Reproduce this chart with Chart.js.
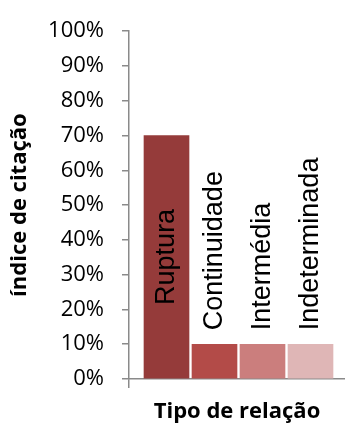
<!DOCTYPE html>
<html>
<head>
<meta charset="utf-8">
<script src="https://cdn.jsdelivr.net/npm/chart.js@4"></script>
<style>
  html, body { margin: 0; padding: 0; background: #fff; }
  #wrap { width: 345px; height: 426px; }
</style>
</head>
<body>
<div id="wrap"><canvas id="chart" width="345" height="426"></canvas></div>
<script>
// dados
const categorias = ['Ruptura', 'Continuidade', 'Intermédia', 'Indeterminada'];
const valores = [70, 10, 10, 10];
const cores = ['#953b3a', '#b34b48', '#cb7e7d', '#dfb6b6'];
const yTicks = [0, 10, 20, 30, 40, 50, 60, 70, 80, 90, 100];

const GRAY = '#8a8a8a';

// rótulos verticais das barras
const rotulosPlugin = {
    id: 'rotulos',
    afterDatasetsDraw(chart) {
        const ctx = chart.ctx;
        const meta = chart.getDatasetMeta(0);
        ctx.save();
        ctx.font = '27px "Liberation Sans", Arial, sans-serif';
        ctx.fillStyle = '#000';
        ctx.textBaseline = 'middle';
        meta.data.forEach((bar, i) => {
            const txt = categorias[i];
            const w = ctx.measureText(txt).width;
            const h = bar.base - bar.y;
            ctx.save();
            if (w + 20 < h) {
                // cabe dentro: centrado
                ctx.translate(bar.x, (bar.y + bar.base) / 2);
                ctx.rotate(-Math.PI / 2);
                ctx.textAlign = 'center';
                ctx.fillText(txt, 0, 0);
            } else {
                ctx.translate(bar.x, bar.y - 14);
                ctx.rotate(-Math.PI / 2);
                ctx.textAlign = 'left';
                ctx.fillText(txt, 0, 0);
            }
            ctx.restore();
        });
        ctx.restore();
    }
};

const ctx = document.getElementById('chart').getContext('2d');
new Chart(ctx, {
    type: 'bar',
    data: {
        datasets: [{
            data: valores.map((v, i) => ({ x: i + 1, y: v })),
            backgroundColor: cores,
            borderWidth: 0,
            barThickness: 45
        }]
    },
    options: {
        responsive: false,
        animation: false,
        layout: { padding: { top: 24, right: 0, left: 0, bottom: 0 } },
        plugins: {
            legend: { display: false },
            tooltip: { enabled: false }
        },
        scales: {
            x: {
                type: 'linear',
                offset: false,
                min: 0.21875,
                max: 4.71875,
                afterBuildTicks: (scale) => { scale.ticks = [{ value: scale.min }]; },
                afterFit: (scale) => { scale.height = 47; },
                ticks: { display: false },
                grid: { display: true, offset: false, drawOnChartArea: false, drawTicks: true, tickLength: 9, color: GRAY, lineWidth: 1.5 },
                border: { display: true, color: GRAY, width: 1.5 },
                title: {
                    display: true,
                    text: 'Tipo de relação',
                    font: { family: '"Open Sans", sans-serif', size: 22, weight: 'bold' },
                    color: '#000',
                    padding: { top: 0, bottom: 1 }
                }
            },
            y: {
                min: 0,
                max: 100,
                afterBuildTicks: (scale) => { scale.ticks = yTicks.map(v => ({ value: v })); },
                afterFit: (scale) => { scale.width = 129; },
                ticks: {
                    callback: v => v + '%',
                    font: { family: '"Open Sans", sans-serif', size: 22 },
                    color: '#000',
                    padding: 18
                },
                grid: { drawOnChartArea: false, drawTicks: true, tickLength: 7, color: GRAY, lineWidth: 1.5 },
                border: { display: true, color: GRAY, width: 1.5 },
                title: {
                    display: true,
                    text: 'índice de citação',
                    font: { family: '"Open Sans", sans-serif', size: 22, weight: 'bold' },
                    color: '#000',
                    padding: { top: 7, bottom: 0 }
                }
            }
        }
    },
    plugins: [rotulosPlugin]
});
</script>
</body>
</html>
